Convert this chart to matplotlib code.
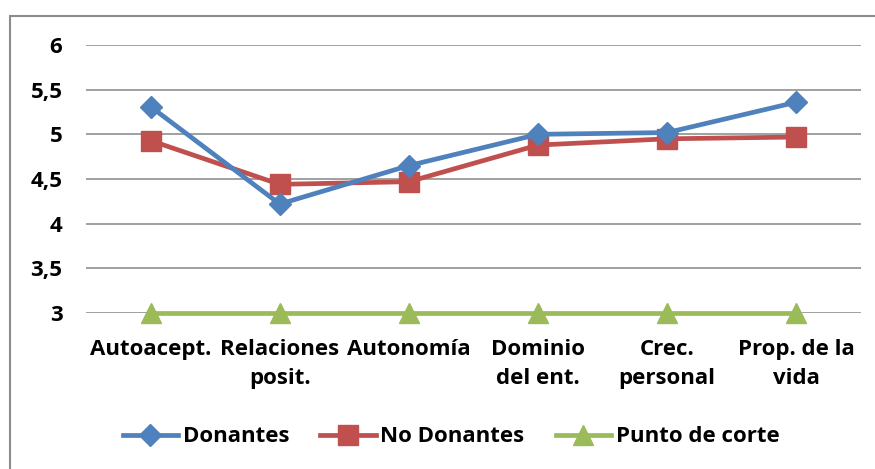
import matplotlib
matplotlib.use("Agg")
import matplotlib.pyplot as plt
from matplotlib.patches import Rectangle

plt.rcParams['font.family'] = ['Open Sans', 'DejaVu Sans']
plt.rcParams['font.weight'] = 'bold'

categories = ["Autoacept.", "Relaciones\nposit.", "Autonomía", "Dominio\ndel ent.", "Crec.\npersonal", "Prop. de la\nvida"]
donantes = [5.31, 4.22, 4.65, 5.00, 5.02, 5.36]
no_donantes = [4.93, 4.44, 4.47, 4.88, 4.95, 4.97]
punto_corte = [3, 3, 3, 3, 3, 3]
yticks = [3, 3.5, 4, 4.5, 5, 5.5, 6]
ytick_labels = ["3", "3,5", "4", "4,5", "5", "5,5", "6"]

W, H = 875, 469
fig = plt.figure(figsize=(W/100, H/100), dpi=100)
ax = fig.add_axes([86/W, 1-313/H, 775/W, 268/H])

x = list(range(len(categories)))
ax.plot(x, punto_corte, color='#9BBB59', lw=3.4, marker='^', ms=14.5, label='Punto de corte', clip_on=False, zorder=3)
ax.plot(x, no_donantes, color='#C0504D', lw=3.4, marker='s', ms=14.5, label='No Donantes', clip_on=False, zorder=4)
ax.plot(x, donantes, color='#4F81BD', lw=3.4, marker='D', ms=11, label='Donantes', clip_on=False, zorder=5)

ax.set_xlim(-0.5, 5.5)
ax.set_ylim(3, 6)
ax.set_yticks(yticks)
ax.set_yticklabels(ytick_labels, fontsize=16, fontweight='bold')
ax.set_xticks(x)
ax.set_xticklabels(categories, fontsize=16, fontweight='bold', linespacing=1.45)
ax.tick_params(axis='y', length=0, pad=17)
ax.tick_params(axis='x', length=0, pad=19)
ax.yaxis.grid(True, color='#868686', lw=1.1)
ax.set_axisbelow(True)
for s in ax.spines.values():
    s.set_visible(False)

handles, labels = ax.get_legend_handles_labels()
order = [2, 1, 0]
leg = fig.legend([handles[i] for i in order], [labels[i] for i in order],
                 loc='center', bbox_to_anchor=(451/W, 1-437/H), ncol=3, frameon=False,
                 prop={'size': 16, 'weight': 'bold'}, handlelength=2.5, handletextpad=0.2,
                 columnspacing=1.4)

fig.patches.append(Rectangle((10/W, -0.1), 1.2, 1-16/H+0.1, transform=fig.transFigure,
                             fill=False, edgecolor='#8C8C8C', lw=1.5))

fig.savefig('out.png', dpi=100)
